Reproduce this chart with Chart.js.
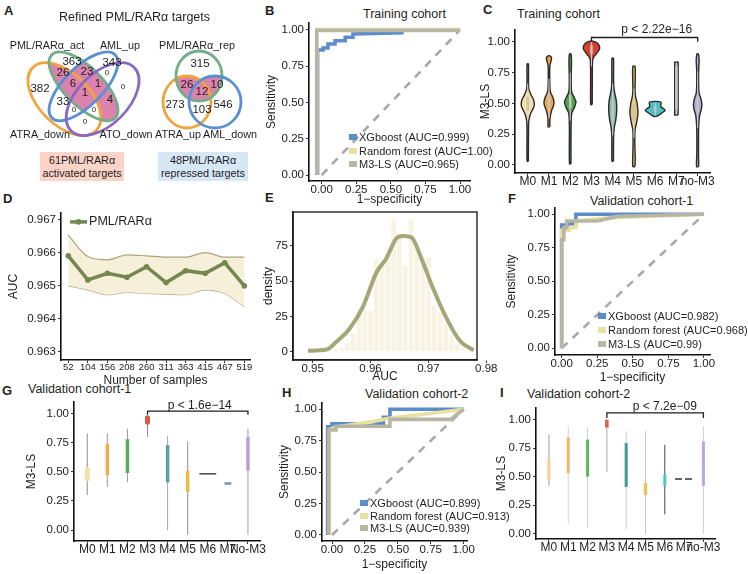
<!DOCTYPE html>
<html>
<head>
<meta charset="utf-8">
<title>M3-LS figure</title>
<script src="https://cdn.jsdelivr.net/npm/chart.js@4.4.1/dist/chart.umd.min.js"></script>
<style>
  body { margin: 0; background: #fff; }
  #fig { position: relative; width: 748px; height: 574px; overflow: hidden; background: #fff;
         font-family: 'Liberation Sans', Arial, Helvetica, sans-serif; color: #1f1f1f; }
  #fig canvas { position: absolute; }
  .lab { position: absolute; font-weight: bold; font-size: 13px; line-height: 13px; }
  .ttl { position: absolute; font-size: 12.5px; line-height: 13px; white-space: nowrap; }
  .tag { position: absolute; font-size: 10.8px; line-height: 13px; text-align: center; padding-top: 2px;
         box-sizing: border-box; white-space: nowrap; }
</style>
</head>
<body>
<div id="fig">
  <div class="lab" style="left:4px;top:4px">A</div>
  <div class="lab" style="left:265px;top:4px">B</div>
  <div class="lab" style="left:483px;top:3px">C</div>
  <div class="lab" style="left:3px;top:192px">D</div>
  <div class="lab" style="left:265px;top:191px">E</div>
  <div class="lab" style="left:508px;top:192px">F</div>
  <div class="lab" style="left:2px;top:384px">G</div>
  <div class="lab" style="left:282px;top:386px">H</div>
  <div class="lab" style="left:500px;top:386px">I</div>

  <div class="ttl" style="left:363px;top:8px">Training cohort</div>
  <div class="ttl" style="left:517px;top:8px">Training cohort</div>
  <div class="ttl" style="left:590px;top:195px">Validation cohort-1</div>
  <div class="ttl" style="left:28px;top:383px">Validation cohort-1</div>
  <div class="ttl" style="left:365px;top:388px">Validation cohort-2</div>
  <div class="ttl" style="left:527px;top:388px">Validation cohort-2</div>

  <div class="tag" style="left:40px;top:152px;width:84px;height:29px;background:#fbd4c7">61PML/RARα<br>activated targets</div>
  <div class="tag" style="left:158px;top:152px;width:90px;height:29px;background:#d6e7f6">48PML/RARα<br>repressed targets</div>
</div>

<script>
// ---------- data ----------
const vennTitle = 'Refined PML/RARα targets';
const vennActSets = ['PML/RARα_act', 'AML_up', 'ATRA_down', 'ATO_down'];
const vennActCounts = [363, 343, 382, 0, 26, 23, 0, 6, 1, 1, 4, 33, 0, 0, 0];
const vennRepSets = ['PML/RARα_rep', 'ATRA_up', 'AML_down'];
const vennRepCounts = [315, 26, 12, 10, 273, 103, 546];

const rocTicks = [0, 0.25, 0.5, 0.75, 1];
const rocModels = ['XGboost', 'Random forest', 'M3-LS'];

const bAuc = ['0.999', '1.00', '0.965'];
const bXgbFpr = [-0.03, -0.03, -0.03, 0.01, 0.01, 0.045, 0.045, 0.096, 0.096, 0.17, 0.17, 0.226, 0.226, 0.58, 0.58, 1];
const bXgbTpr = [0, 0.78, 0.862, 0.862, 0.876, 0.876, 0.903, 0.903, 0.926, 0.926, 0.95, 0.95, 0.972, 0.98, 1, 1];
const bRfFpr = [-0.036, -0.036, 0.03, 1];
const bRfTpr = [0, 1.003, 1.003, 1.003];
const bLsFpr = [-0.036, -0.036, 1];
const bLsTpr = [0, 0.997, 0.997];

const fAuc = ['0.982', '0.968', '0.99'];
const fXgbFpr = [0, 0, 0.04, 0.04, 0.1, 0.1, 1];
const fXgbTpr = [0, 0.92, 0.92, 0.93, 0.93, 1, 1];
const fRfFpr = [0, 0, 0.05, 0.05, 0.1, 0.1, 0.35, 1];
const fRfTpr = [0, 0.88, 0.88, 0.9, 0.9, 0.95, 0.975, 1];
const fLsFpr = [0, 0, 0.015, 0.015, 0.035, 0.035, 0.25, 0.4, 1];
const fLsTpr = [0, 0.81, 0.81, 0.9, 0.9, 0.95, 0.95, 0.985, 1];

const hAuc = ['0.899', '0.913', '0.939'];
const hXgbFpr = [-0.033, -0.033, 0, 0, 0.39, 0.39, 0.44, 0.44, 1];
const hXgbTpr = [0, 0.86, 0.86, 0.885, 0.885, 0.936, 0.936, 1, 1];
const hRfFpr = [-0.02, -0.02, 0.03, 0.3, 0.44, 0.7, 1];
const hRfTpr = [0, 0.84, 0.86, 0.9, 0.93, 0.96, 1];
const hLsFpr = [-0.025, -0.025, 0.03, 0.03, 0.44, 0.44, 0.9, 1];
const hLsTpr = [0, 0.835, 0.835, 0.865, 0.865, 0.92, 0.92, 1];

const cCats = ['M0', 'M1', 'M2', 'M3', 'M4', 'M5', 'M6', 'M7', 'no-M3'];
// violin outline: [M3-LS value, half width in category units], bottom to top
const cProfiles = [
  [[0.03, 0.03], [0.25, 0.035], [0.36, 0.05], [0.42, 0.14], [0.46, 0.26], [0.49, 0.31], [0.53, 0.27], [0.57, 0.15], [0.62, 0.05], [0.7, 0.035], [0.82, 0.03]],
  [[0.31, 0.04], [0.38, 0.05], [0.44, 0.12], [0.48, 0.21], [0.51, 0.235], [0.55, 0.18], [0.59, 0.07], [0.65, 0.04], [0.8, 0.04], [0.84, 0.09], [0.87, 0.12], [0.885, 0.04]],
  [[0.01, 0.035], [0.3, 0.04], [0.42, 0.07], [0.46, 0.18], [0.51, 0.27], [0.55, 0.18], [0.59, 0.07], [0.66, 0.045], [0.75, 0.05], [0.85, 0.06], [0.9, 0.035]],
  [[0.49, 0.035], [0.7, 0.04], [0.84, 0.05], [0.87, 0.09], [0.9, 0.22], [0.94, 0.38], [0.97, 0.36], [0.995, 0.22], [1.005, 0.05]],
  [[0.03, 0.035], [0.2, 0.04], [0.3, 0.07], [0.36, 0.14], [0.44, 0.19], [0.52, 0.17], [0.58, 0.1], [0.64, 0.05], [0.75, 0.04], [0.865, 0.035]],
  [[-0.013, 0.05], [0.05, 0.06], [0.15, 0.045], [0.28, 0.05], [0.34, 0.12], [0.42, 0.19], [0.5, 0.15], [0.56, 0.07], [0.62, 0.05], [0.7, 0.06], [0.8, 0.05]],
  [[0.395, 0.08], [0.42, 0.3], [0.445, 0.47], [0.465, 0.32], [0.475, 0.26], [0.51, 0.27]],
  [[0.405, 0.08], [0.833, 0.08]],
  [[-0.013, 0.05], [0.1, 0.04], [0.3, 0.045], [0.4, 0.09], [0.45, 0.17], [0.49, 0.2], [0.54, 0.15], [0.58, 0.07], [0.65, 0.045], [0.78, 0.05], [0.85, 0.07], [0.9, 0.035]]
];
const cBoxLo = [0.44, 0.46, 0.46, 0.9, 0.36, 0.36, 0.43, 0.45, 0.43];
const cBoxHi = [0.55, 0.58, 0.57, 0.97, 0.52, 0.49, 0.47, 0.8, 0.56];
const cWhiskLo = [0.36, 0.38, 0.36, 0.8, 0.24, 0.22, 0.4, 0.41, 0.3];
const cWhiskHi = [0.66, 0.7, 0.75, 1.0, 0.66, 0.62, 0.5, 0.83, 0.76];
const cP = 'p < 2.22e\u221216';

const dSamples = [52, 104, 156, 208, 260, 311, 363, 415, 467, 519];
const dAuc = [0.96591, 0.96518, 0.96538, 0.96526, 0.96558, 0.9651, 0.96546, 0.96538, 0.9657, 0.965];
const dUpper = [0.96654, 0.96589, 0.96579, 0.96594, 0.96591, 0.96587, 0.96587, 0.96601, 0.96587, 0.96587];
const dLower = [0.965, 0.96488, 0.96473, 0.9648, 0.96477, 0.96475, 0.96473, 0.96488, 0.96477, 0.96437];

const eBins = [0.954, 0.955, 0.956, 0.957, 0.958, 0.959, 0.96, 0.961, 0.962, 0.963, 0.964, 0.965, 0.966, 0.967, 0.968, 0.969, 0.97, 0.971, 0.972, 0.973, 0.974, 0.975, 0.976];
const eCounts = [2, 3, 6, 13, 29, 30, 29, 65, 61, 73, 94, 84, 61, 94, 74, 66, 67, 33, 28, 20, 12, 6, 3];
const eDensX = [0.9492, 0.9524, 0.9541, 0.9564, 0.9587, 0.961, 0.9627, 0.9645, 0.9656, 0.9671, 0.9688, 0.9708, 0.9731, 0.9754, 0.9778];
const eDensY = [0.7, 1.5, 7, 16.5, 32, 56, 66, 80.5, 82.1, 81, 66, 45, 24, 8, 1];

const gCats = ['M0', 'M1', 'M2', 'M3', 'M4', 'M5', 'M6', 'M7', 'No-M3'];
const gWhiskLo = [0.3, 0.37, 0.41, 0.8, 0.0, -0.04, null, null, -0.04];
const gWhiskHi = [0.83, 0.83, 0.87, 0.95, 0.81, 0.76, null, null, 0.87];
const gBoxLo = [0.44, 0.47, 0.49, 0.925, 0.41, 0.33, null, null, 0.51];
const gBoxHi = [0.52, 0.74, 0.78, 0.965, 0.73, 0.51, null, null, 0.8];
const gFlat = [null, null, null, null, null, null, 0.483, 0.4, null];
const gP = 'p < 1.6e\u221214';

const iCats = ['M0', 'M1', 'M2', 'M3', 'M4', 'M5', 'M6', 'M7', 'no-M3'];
const iWhiskLo = [0.42, 0.09, 0.05, 0.54, 0.04, 0.0, 0.17, null, 0.0];
const iWhiskHi = [0.87, 0.94, 0.935, 0.93, 0.9, 0.9, 0.78, null, 0.94];
const iBoxLo = [0.47, 0.53, 0.5, 0.93, 0.41, 0.34, 0.42, null, 0.42];
const iBoxHi = [0.66, 0.845, 0.825, 1.0, 0.795, 0.445, 0.52, null, 0.81];
const iFlat = [null, null, null, null, null, null, null, 0.48, null];
const iP = 'p < 7.2e\u221209';

// ---------- setup ----------
const FONT = "'Liberation Sans', Arial, Helvetica, sans-serif";
const INK = '#1f1f1f';
const PINK = '#dd82ad';
Chart.defaults.font.family = FONT;
Chart.defaults.font.size = 11.5;
Chart.defaults.color = INK;
Chart.defaults.animation = false;
Chart.defaults.events = [];
Chart.defaults.plugins.legend.display = false;
Chart.defaults.plugins.tooltip.enabled = false;
Chart.defaults.elements.point.radius = 0;
Chart.defaults.elements.line.fill = false;

const fig = document.getElementById('fig');
const xy = (xs, ys) => xs.map((x, i) => ({ x, y: ys[i] }));
const seg = (x0, y0, x1, y1) => [{ x: x0, y: y0 }, { x: x1, y: y1 }];
const bracket = (a, b, lo, hi) => [{ x: a, y: lo }, { x: a, y: hi }, { x: b, y: hi }, { x: b, y: lo }];
const idx = n => Array.from({ length: n }, (_, i) => i);

function axis(min, max, ticks, fmt, title, o = {}) {
  return {
    type: 'linear', min, max,
    offset: false,
    afterBuildTicks: s => { s.ticks = ticks.map(v => ({ value: v })); },
    ticks: { callback: fmt, autoSkip: false, maxRotation: 0, padding: o.pad ?? 2,
             font: { size: o.size || 11.5, lineHeight: 1 }, color: '#222' },
    grid: { offset: false, drawOnChartArea: false, drawTicks: true, tickLength: 3, tickColor: '#333', tickWidth: 1 },
    border: { color: '#111', width: 1.6 },
    title: title ? { display: true, text: title, padding: 0, font: { size: 12 }, color: INK } : { display: false }
  };
}

// box = plot area in page pixels, yw / xh = room left for the y and x axes
function place(box, yw, xh, cfg, padT = 10, padR = 16) {
  const c = document.createElement('canvas');
  const w = box.r - box.l + yw + padR, h = box.b - box.t + padT + xh;
  c.width = w; c.height = h;
  c.style.left = (box.l - yw) + 'px'; c.style.top = (box.t - padT) + 'px';
  c.style.width = w + 'px'; c.style.height = h + 'px';
  fig.appendChild(c);
  cfg.options.responsive = false;
  cfg.options.devicePixelRatio = 1;
  cfg.options.layout = { padding: { top: padT, right: padR, left: 0, bottom: 0 } };
  cfg.options.scales.x.afterFit = s => { s.height = xh; };
  cfg.options.scales.y.afterFit = s => { s.width = yw; };
  return new Chart(c, cfg);
}

function notes(items) {
  return { id: 'notes', afterDatasetsDraw(chart) {
    const { ctx, scales: { x, y } } = chart;
    ctx.save();
    ctx.textBaseline = 'middle';
    items.forEach(it => {
      ctx.font = `${it.size || 12}px ${FONT}`;
      ctx.fillStyle = INK;
      ctx.textAlign = it.align || 'center';
      ctx.fillText(it.text, x.getPixelForValue(it.x), y.getPixelForValue(it.y));
    });
    ctx.restore();
  }};
}

// ---------- A: Venn diagrams ----------
// [cx, cy, rx, ry, rotation in degrees], order as in vennActSets / vennRepSets
const vennActShape = [[83.5, 86.3, 44.7, 19.1, 45], [83.5, 86.3, 44.7, 19.1, -45], [64.4, 99.1, 44.7, 25.5, 45], [102.6, 99.1, 44.7, 25.5, -45]];
const vennActColor = ['#72ae8a', '#5a8fd1', '#f0a43a', '#8b67c4'];
const vennActLabelAt = [[47, 46], [120, 46], [40, 135], [126, 135]];
const vennActCountAt = [[72, 62], [112, 63], [40, 89], [123, 87], [63, 73], [87, 72], [107, 73], [73, 84], [98, 84], [85, 93], [110, 100], [63, 102], [74, 110], [94, 110], [85, 122]];
const vennRepShape = [[199, 76, 23, 25, 0], [187, 102, 24, 26, 0], [215, 102, 26, 26, 0]];
const vennRepColor = ['#72ae8a', '#f0a43a', '#5a8fd1'];
const vennRepLabelAt = [[197, 46], [178, 135], [230, 135]];
const vennRepCountAt = [[200, 64], [187, 85], [202, 92], [217, 85], [175, 105], [202, 110], [223, 105]];
const vennTitleAt = [134.5, 18];

const vennPlugin = {
  id: 'venn',
  afterDraw(chart) {
    const { ctx, scales: { x, y } } = chart;
    const W = chart.width, H = chart.height;
    const ell = e => {
      ctx.beginPath();
      ctx.ellipse(x.getPixelForValue(e[0]), y.getPixelForValue(e[1]), e[2], e[3], e[4] * Math.PI / 180, 0, Math.PI * 2);
    };
    // pink: PML/RARα_act overlaps that hold genes
    const [g, b, o, p] = vennActShape;
    ctx.save();
    ell(g); ctx.clip();
    ctx.fillStyle = PINK;
    [b, o, p].forEach(e => { ell(e); ctx.fill(); });
    ctx.save();
    ell(o); ctx.clip(); ell(p); ctx.clip();
    ctx.fillStyle = '#fff'; ctx.fillRect(0, 0, W, H);
    ctx.fillStyle = PINK; ell(b); ctx.fill();
    ctx.restore();
    ctx.restore();

    const [rg, ro, rb] = vennRepShape;
    ctx.save();
    ell(rg); ctx.clip();
    ctx.fillStyle = PINK;
    [ro, rb].forEach(e => { ell(e); ctx.fill(); });
    ctx.restore();

    ctx.save();
    ctx.lineWidth = 2.8;
    [2, 0, 1, 3].forEach(k => { ctx.strokeStyle = vennActColor[k]; ell(vennActShape[k]); ctx.stroke(); });
    [1, 0, 2].forEach(k => { ctx.strokeStyle = vennRepColor[k]; ell(vennRepShape[k]); ctx.stroke(); });

    ctx.textAlign = 'center'; ctx.textBaseline = 'middle'; ctx.fillStyle = INK;
    const put = (t, at, size) => {
      ctx.font = `${size}px ${FONT}`;
      ctx.fillText(t, x.getPixelForValue(at[0]), y.getPixelForValue(at[1]));
    };
    put(vennTitle, vennTitleAt, 12.5);
    vennActCounts.forEach((n, k) => put(String(n), vennActCountAt[k], n === 0 ? 8 : 11.5));
    vennRepCounts.forEach((n, k) => put(String(n), vennRepCountAt[k], 11.5));
    vennActSets.forEach((s, k) => put(s, vennActLabelAt[k], 10.8));
    vennRepSets.forEach((s, k) => put(s, vennRepLabelAt[k], 10.8));
    ctx.restore();
  }
};

(function () {
  const c = document.createElement('canvas');
  c.width = 258; c.height = 195;
  c.style.left = '0px'; c.style.top = '0px'; c.style.width = '258px'; c.style.height = '195px';
  fig.appendChild(c);
  new Chart(c, {
    type: 'scatter',
    data: { datasets: [] },
    options: {
      responsive: false, devicePixelRatio: 1,
      layout: { padding: 0 },
      scales: {
        x: { type: 'linear', min: 0, max: 258, display: false },
        y: { type: 'linear', min: 0, max: 195, reverse: true, display: false }
      }
    },
    plugins: [vennPlugin]
  });
})();

// ---------- ROC panels (B, F, H) ----------
const rocColors = ['#5a8dca', '#e8e1a2', '#b7b6a5'];

function rocLegend(auc, at) {
  return { id: 'rocLegend', afterDatasetsDraw(chart) {
    const { ctx, scales: { x, y } } = chart;
    ctx.save();
    ctx.font = `11px ${FONT}`; ctx.textBaseline = 'middle'; ctx.textAlign = 'left';
    rocModels.forEach((m, k) => {
      const px = Math.round(x.getPixelForValue(at[0]));
      const py = Math.round(y.getPixelForValue(at[1] - k * at[2]));
      ctx.fillStyle = rocColors[k]; ctx.fillRect(px, py - 3, 8, 6);
      ctx.fillStyle = INK; ctx.fillText(`${m} (AUC=${auc[k]})`, px + 10, py + 0.5);
    });
    ctx.restore();
  }};
}

function roc(box, yw, xh, xr, yr, curves, auc, legAt, padR) {
  const [xg, rf, ls] = curves;
  return place(box, yw, xh, {
    type: 'line',
    data: { datasets: [
      { data: ls, borderColor: rocColors[2], borderWidth: 3.6 },
      { data: rf, borderColor: rocColors[1], borderWidth: 3.6 },
      { data: xg, borderColor: rocColors[0], borderWidth: 3.6 },
      { data: seg(0, 0, 1, 1), borderColor: '#a8a8a8', borderWidth: 2.6, borderDash: [8, 7] }
    ]},
    options: {
      scales: {
        x: axis(xr[0], xr[1], rocTicks, v => v.toFixed(2), '1\u2212specificity', { pad: 0 }),
        y: axis(yr[0], yr[1], rocTicks, v => v.toFixed(2), 'Sensitivity')
      }
    },
    plugins: [rocLegend(auc, legAt)]
  }, 10, padR);
}

roc({ l: 309, t: 23, r: 470, b: 181 }, 45, 26, [-0.092, 1.072], [-0.041, 1.048],
    [xy(bXgbFpr, bXgbTpr), xy(bRfFpr, bRfTpr), xy(bLsFpr, bLsTpr)], bAuc, [0.2, 0.264, 0.095], 32);
roc({ l: 555, t: 208, r: 710, b: 355 }, 51, 30, [-0.047, 1.043], [-0.05, 1.047],
    [xy(fXgbFpr, fXgbTpr), xy(fRfFpr, fRfTpr), xy(fLsFpr, fLsTpr)], fAuc, [0.255, 0.241, 0.105], 40);
roc({ l: 322, t: 403, r: 467, b: 541 }, 45, 31, [-0.076, 1.025], [-0.048, 1.05],
    [xy(hXgbFpr, hXgbTpr), xy(hRfFpr, hRfTpr), xy(hLsFpr, hLsTpr)], hAuc, [0.215, 0.252, 0.1], 50);

// ---------- C: violins ----------
const cFill = ['#f6e1a8', '#f5a43d', '#4ea547', '#d9412c', '#86b8b3', '#eec56a', '#52c0c1', '#c9cdd7', '#b8a9d3'];

function violin(i, prof) {
  const right = prof.map(([v, w]) => ({ x: i + w, y: v }));
  const left = prof.slice().reverse().map(([v, w]) => ({ x: i - w, y: v }));
  return right.concat(left, [right[0]]);
}

(function () {
  const ds = [{ data: bracket(3, 8, 1.0, 1.034), borderColor: INK, borderWidth: 1.3 }];
  cCats.forEach((_, i) => {
    ds.push({ data: seg(i, cBoxLo[i], i, cBoxHi[i]), borderColor: '#c4c4c4', borderWidth: 2.6 });
    ds.push({ data: seg(i, cWhiskLo[i], i, cWhiskHi[i]), borderColor: '#d9d9d9', borderWidth: 0.9 });
    ds.push({ data: violin(i, cProfiles[i]), borderColor: '#2b2b2b', borderWidth: 1.4,
              backgroundColor: cFill[i], fill: 'shape', tension: cProfiles[i].length > 2 ? 0.3 : 0 });
  });
  place({ l: 515, t: 30, r: 710, b: 173 }, 37, 20, {
    type: 'line',
    data: { datasets: ds },
    options: {
      scales: {
        x: axis(-0.6, 8.58, idx(cCats.length), v => cCats[v], null, { pad: 0, size: 12 }),
        y: axis(-0.065, 1.095, [0, 0.25, 0.5, 0.75, 1], v => v.toFixed(2), 'M3-LS')
      }
    },
    plugins: [notes([{ text: cP, x: 6.07, y: 1.095 }])]
  }, 14, 16);
})();

// ---------- D: AUC vs number of samples ----------
(function () {
  const ix = idx(dSamples.length);
  const legend = { id: 'dLegend', afterDatasetsDraw(chart) {
    const { ctx, scales: { x, y } } = chart;
    const py = y.getPixelForValue(0.96694);
    const x0 = x.getPixelForValue(0.09), x1 = x.getPixelForValue(0.96);
    ctx.save();
    ctx.strokeStyle = '#76864f'; ctx.lineWidth = 3.5;
    ctx.beginPath(); ctx.moveTo(x0, py); ctx.lineTo(x1, py); ctx.stroke();
    ctx.fillStyle = '#76864f';
    ctx.beginPath(); ctx.arc((x0 + x1) / 2, py, 2.8, 0, Math.PI * 2); ctx.fill();
    ctx.fillStyle = INK; ctx.font = `12.5px ${FONT}`; ctx.textBaseline = 'middle';
    ctx.fillText('PML/RARα', x1 + 2, py);
    ctx.restore();
  }};
  place({ l: 61, t: 213, r: 250, b: 360 }, 55, 28, {
    type: 'line',
    data: { datasets: [
      { data: xy(ix, dAuc), borderColor: '#76864f', borderWidth: 3.5, pointRadius: 2.8,
        pointBackgroundColor: '#76864f', pointBorderWidth: 0 },
      { data: xy(ix, dUpper), borderColor: '#a8a67e', borderWidth: 1.2, backgroundColor: '#f6f0da',
        fill: '+1', cubicInterpolationMode: 'monotone' },
      { data: xy(ix, dLower), borderColor: '#a8a67e', borderWidth: 1.2, cubicInterpolationMode: 'monotone' }
    ]},
    options: {
      scales: {
        x: axis(-0.373, 9.29, ix, v => String(dSamples[v]), 'Number of samples', { pad: 0, size: 9.5 }),
        y: axis(0.96275, 0.96721, [0.963, 0.964, 0.965, 0.966, 0.967], v => v.toFixed(3), 'AUC')
      }
    },
    plugins: [legend]
  }, 10, 16);
})();

// ---------- E: AUC distribution ----------
(function () {
  const frame = { id: 'frame', afterDraw(chart) {
    const { ctx, chartArea: a } = chart;
    ctx.save(); ctx.strokeStyle = '#222'; ctx.lineWidth = 1.4;
    ctx.strokeRect(a.left, a.top, a.right - a.left, a.bottom - a.top);
    ctx.restore();
  }};
  place({ l: 293, t: 212, r: 477, b: 360 }, 32, 24, {
    type: 'bar',
    data: { datasets: [
      { type: 'line', data: xy(eDensX, eDensY), borderColor: '#a4a879', borderWidth: 4,
        cubicInterpolationMode: 'monotone' },
      { type: 'bar', data: xy(eBins, eCounts), backgroundColor: '#f8f3e2',
        barPercentage: 0.82, categoryPercentage: 1 }
    ]},
    options: {
      scales: {
        x: axis(0.9466, 0.9784, [0.95, 0.96, 0.97, 0.98], v => v.toFixed(2), 'AUC', { pad: 0 }),
        y: axis(-5.9, 99.1, [0, 25, 50, 75], v => String(v), 'density')
      }
    },
    plugins: [frame]
  }, 10, 26);
})();

// ---------- G and I: narrow violins / boxes ----------
function boxPanel(o) {
  const ds = [{ data: bracket(3, 8, o.br[0], o.br[1]), borderColor: INK, borderWidth: 1.3 }];
  o.cats.forEach((_, i) => {
    if (o.bLo[i] != null) ds.push({ data: seg(i, o.bLo[i], i, o.bHi[i]), borderColor: o.fill[i],
      borderWidth: o.bw[i], borderCapStyle: o.round[i] ? 'round' : 'butt' });
    if (o.wLo[i] != null) ds.push({ data: seg(i, o.wLo[i], i, o.wHi[i]), borderColor: o.wCol[i], borderWidth: 1 });
    if (o.flat[i] != null) ds.push({ data: seg(i - o.fw[i], o.flat[i], i + o.fw[i], o.flat[i]),
      borderColor: o.fill[i], borderWidth: o.bw[i], borderDash: o.dash[i] || [] });
  });
  place(o.box, o.yw, 20, {
    type: 'line',
    data: { datasets: ds },
    options: {
      scales: {
        x: axis(o.xr[0], o.xr[1], idx(o.cats.length), v => o.cats[v], null, { pad: 0, size: 12 }),
        y: axis(o.yr[0], o.yr[1], [0, 0.25, 0.5, 0.75, 1], v => v.toFixed(2), 'M3-LS')
      }
    },
    plugins: [notes([{ text: o.p, x: o.pAt[0], y: o.pAt[1] }])]
  }, 14, 16);
}

boxPanel({
  box: { l: 74, t: 402, r: 260, b: 541 }, yw: 50, xr: [-0.66, 8.6], yr: [-0.094, 1.1],
  cats: gCats, wLo: gWhiskLo, wHi: gWhiskHi, bLo: gBoxLo, bHi: gBoxHi, flat: gFlat,
  fill: ['#efe2ae', '#f4ad4a', '#59ad5a', '#d95a4a', '#5e9f9c', '#f1b840', '#444444', '#7d8fb5', '#b9a1d6'],
  wCol: ['#8d8d8d', '#9a9a9a', '#9a9a9a', '#8d8d8d', '#a5a5a5', '#8d8d8d', '#999', '#999', '#a0a0a0'],
  bw: [5, 3.5, 3.5, 5, 3.5, 3.5, 1.5, 2.5, 3.5],
  round: [true, false, false, true, false, false, false, false, false],
  fw: [0, 0, 0, 0, 0, 0, 0.42, 0.17, 0], dash: [],
  br: [0.99, 1.022], p: gP, pAt: [5.6, 1.071]
});

boxPanel({
  box: { l: 536, t: 408, r: 715, b: 539 }, yw: 42, xr: [-0.67, 8.6], yr: [-0.046, 1.102],
  cats: iCats, wLo: iWhiskLo, wHi: iWhiskHi, bLo: iBoxLo, bHi: iBoxHi, flat: iFlat,
  fill: ['#f6cf98', '#f2b56a', '#5db85f', '#d9604f', '#3e9b98', '#f0c060', '#52c3c3', '#333333', '#bca6dc'],
  wCol: ['#9d9d9d', '#d6d6d6', '#cfcfcf', '#a8a8a8', '#c8c8c8', '#c4c4c4', '#4a4a4a', '#999', '#d0d0d0'],
  bw: [3, 3, 3, 3.5, 3, 3.5, 3, 1.5, 3],
  round: [false, false, false, false, false, false, false, false, false],
  fw: [0, 0, 0, 0, 0, 0, 0, 0.47, 0], dash: [null, null, null, null, null, null, null, [7, 3], null],
  br: [1.015, 1.059], p: iP, pAt: [6.0, 1.117]
});
</script>
</body>
</html>
